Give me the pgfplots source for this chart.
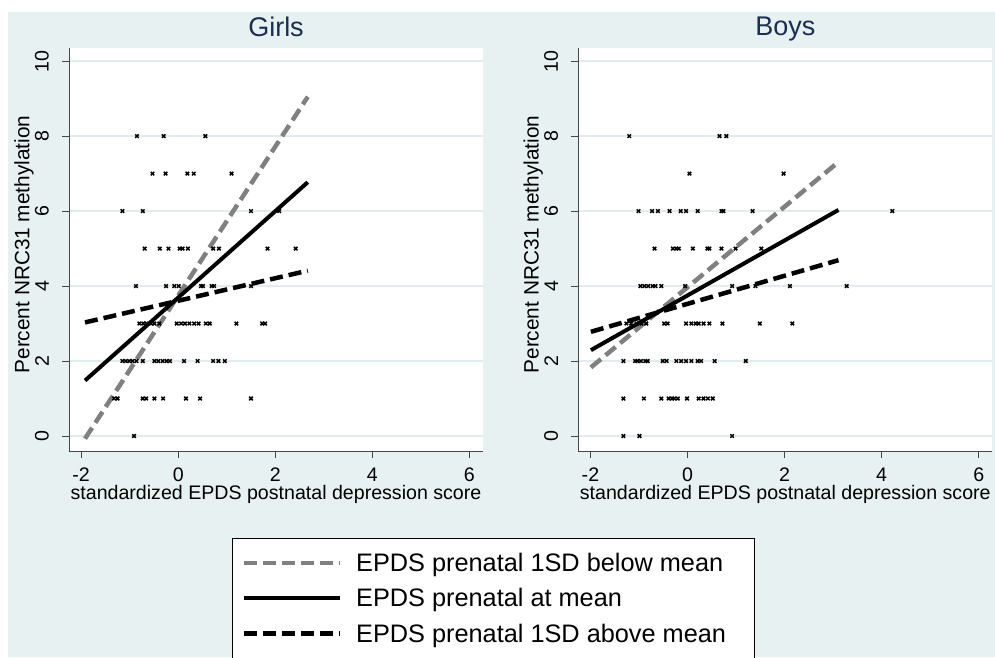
\documentclass[border=0pt]{standalone}
\usepackage{fontspec}
\setmainfont{Liberation Sans}
\usepackage{pgfplots}
\pgfplotsset{compat=1.18}

\definecolor{bgc}{RGB}{232,241,242}
\definecolor{gridc}{RGB}{224,236,238}
\definecolor{titlec}{RGB}{26,46,82}
\definecolor{axc}{RGB}{70,70,70}
\definecolor{dgray}{RGB}{128,128,128}

\pgfplotsset{
  panel/.style={
    scale only axis, width=414pt, height=403pt,
    xmin=-2.25, xmax=6.28, ymin=-0.4, ymax=10.35,
    xtick={-2,0,...,6}, ytick={0,2,...,10},
    axis x line*=bottom, axis y line*=left,
    axis line style={axc, line width=0.9pt},
    tick align=outside, major tick length=7pt,
    tick style={axc, line width=0.9pt},
    axis background/.style={fill=white},
    ymajorgrids, grid style={gridc, line width=1.8pt},
    ticklabel style={font=\fontsize{19.6}{22}\selectfont},
    /pgf/number format/assume math mode=true,
    yticklabel style={inner sep=0pt, xshift=-13pt, rotate=90, anchor=south},
    xticklabel shift=6pt,
    every axis x label/.style={at={(axis description cs:0.5,0)}, anchor=base,
      yshift=-48pt, font=\fontsize{19.6}{22}\selectfont},
    every axis y label/.style={at={(axis description cs:0,0.5)}, xshift=-55pt, yshift=5pt,
      rotate=90, anchor=north, inner sep=0pt, font=\fontsize{20.8}{23}\selectfont},
    every axis title/.style={at={(axis description cs:0.5,1)}, anchor=base,
      yshift=12pt, font=\fontsize{27}{30}\selectfont, text=titlec},
    xlabel={standardized EPDS postnatal depression score},
    ylabel={Percent NRC31 methylation},
  },
  pts/.style={only marks, mark=x, mark size=2.5pt, black, line width=1.5pt, forget plot},
  below/.style={dgray, line width=4.5pt, dash pattern=on 13pt off 6pt},
  atmean/.style={black, line width=4pt},
  above/.style={black, line width=4.5pt, dash pattern=on 13pt off 6pt},
}

\begin{document}
\begin{tikzpicture}[x=1pt,y=1pt]
\fill[white] (0,0) rectangle (995,657);
\fill[bgc] (8,0) rectangle (995,645);

% Girls
\begin{axis}[panel, at={(69pt,206pt)}, anchor=south west, title={Girls},
  legend style={at={(axis description cs:0.3944,-0.2151)}, anchor=north west,
    draw=black, line width=0.8pt, fill=white, font=\fontsize{25.3}{30}\selectfont,
    inner xsep=9pt, inner ysep=13pt, row sep=11.5pt, column sep=12pt,
    cells={anchor=west}},
  legend image code/.code={\draw[#1] (0pt,0pt) -- (96pt,0pt);}]
\addplot[pts] coordinates {
 (-0.85,8) (-0.30,8) (0.56,8)
 (-0.53,7) (-0.26,7) (0.19,7) (0.32,7) (1.10,7)
 (-1.15,6) (-0.73,6) (1.50,6) (2.08,6)
 (-0.69,5) (-0.38,5) (-0.20,5) (0.03,5) (0.09,5) (0.20,5) (0.72,5) (0.84,5) (1.84,5) (2.42,5)
 (-0.87,4) (-0.25,4) (-0.08,4) (0.01,4) (0.47,4) (0.51,4) (0.69,4) (0.74,4) (1.50,4)
 (-0.80,3) (-0.72,3) (-0.65,3) (-0.56,3) (-0.49,3) (-0.39,3) (-0.03,3) (0.06,3) (0.14,3)
 (0.23,3) (0.33,3) (0.42,3) (0.57,3) (0.65,3) (1.20,3) (1.73,3) (1.79,3)
 (-1.15,2) (-1.08,2) (-1.01,2) (-0.94,2) (-0.86,2) (-0.73,2) (-0.49,2) (-0.41,2) (-0.32,2)
 (-0.24,2) (-0.17,2) (0.12,2) (0.40,2) (0.72,2) (0.83,2) (0.96,2)
 (-1.32,1) (-1.25,1) (-0.73,1) (-0.66,1) (-0.49,1) (-0.31,1) (0.16,1) (0.45,1) (1.50,1)
 (-0.91,0)
};
\addplot[below] coordinates {(-1.92,-0.07) (2.67,9.05)};
\addlegendentry{\makebox[387pt][l]{EPDS prenatal 1SD below mean}}
\addplot[atmean] coordinates {(-1.92,1.48) (2.67,6.77)};
\addlegendentry{EPDS prenatal at mean}
\addplot[above] coordinates {(-1.92,3.03) (2.67,4.41)};
\addlegendentry{EPDS prenatal 1SD above mean}
\end{axis}

% Boys
\begin{axis}[panel, at={(578.3pt,206pt)}, anchor=south west, title={Boys}]
\addplot[pts] coordinates {
 (-1.20,8) (0.66,8) (0.80,8)
 (0.04,7) (1.98,7)
 (-1.01,6) (-0.73,6) (-0.61,6) (-0.37,6) (-0.14,6) (-0.03,6) (0.21,6) (0.70,6) (0.74,6) (1.34,6) (4.22,6)
 (-0.68,5) (-0.30,5) (-0.23,5) (-0.18,5) (0.11,5) (0.41,5) (0.45,5) (0.70,5) (0.99,5) (1.52,5)
 (-0.97,4) (-0.89,4) (-0.81,4) (-0.72,4) (-0.66,4) (-0.54,4) (-0.05,4) (0.92,4) (1.40,4) (2.11,4) (3.28,4)
 (-1.26,3) (-1.16,3) (-1.05,3) (-0.95,3) (-0.85,3) (-0.48,3) (-0.41,3) (-0.03,3) (0.08,3)
 (0.17,3) (0.23,3) (0.33,3) (0.45,3) (0.72,3) (1.49,3) (2.16,3)
 (-1.32,2) (-1.08,2) (-1.03,2) (-0.96,2) (-0.87,2) (-0.82,2) (-0.51,2) (-0.43,2) (-0.23,2)
 (-0.13,2) (-0.03,2) (0.08,2) (0.21,2) (0.28,2) (0.56,2) (1.20,2)
 (-1.32,1) (-0.90,1) (-0.54,1) (-0.39,1) (-0.32,1) (-0.27,1) (-0.20,1) (-0.01,1) (0.23,1)
 (0.33,1) (0.42,1) (0.52,1)
 (-1.32,0) (-0.99,0) (0.92,0)
};
\addplot[below] coordinates {(-1.99,1.83) (3.11,7.31)};
\addplot[atmean] coordinates {(-1.99,2.29) (3.11,6.03)};
\addplot[above] coordinates {(-1.99,2.78) (3.11,4.69)};
\end{axis}

\pgfresetboundingbox
\useasboundingbox (0,0) rectangle (995,657);
\end{tikzpicture}
\end{document}
